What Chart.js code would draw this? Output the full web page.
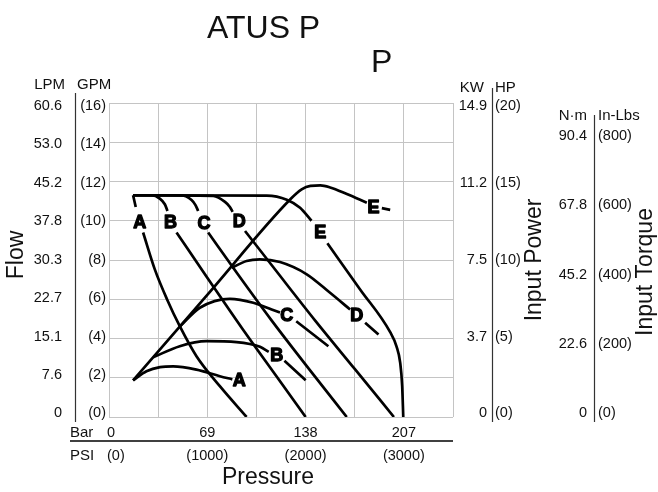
<!DOCTYPE html>
<html><head><meta charset="utf-8">
<script src="https://cdn.jsdelivr.net/npm/chart.js@4/dist/chart.umd.min.js"></script>
<style>html,body{margin:0;padding:0;background:#fff}#wrap{width:658px;height:492px}</style>
</head><body><div id="wrap"><canvas id="c" width="658" height="492"></canvas></div>
<script>
// ---- tick labels ----
const pressureTicksPSI = [0, 1000, 2000, 3000];
const pressureTicksBar = ['0', '69', '138', '207'];
const pressureTicksPSIText = ['(0)', '(1000)', '(2000)', '(3000)'];
const flowTicksGPM = [0, 2, 4, 6, 8, 10, 12, 14, 16];
const flowTicksLPM = ['0', '7.6', '15.1', '22.7', '30.3', '37.8', '45.2', '53.0', '60.6'];
const powerTicksHP = [0, 5, 10, 15, 20];
const powerTicksKW = ['0', '3.7', '7.5', '11.2', '14.9'];
const torqueTicksInLbs = [0, 200, 400, 600, 800];
const torqueTicksNm = ['0', '22.6', '45.2', '67.8', '90.4'];

// ---- flow curves: [PSI, GPM]; null = gap under the letter ----
const flowA = [[245,11.3],[272,10.7],[313,null],[347,9.4],[466,7.52],[591,5.99],[720,4.63],[890,3.1],[1128,1.57],[1400,0]];
const flowB = [[245,11.3],[432,11.3],[517,11.13],[568,10.84],[595,10.5],[626,null],[687,9.4],[1000,7.1],[1350,4.55],[1700,2.1],[2001,0]];
const flowC = [[245,11.3],[720,11.3],[840,11.06],[880,10.8],[907,10.5],[966,null],[1009,9.4],[1300,7.35],[1650,4.95],[2050,2.35],[2419,0]];
const flowD = [[245,11.3],[1061,11.26],[1180,10.96],[1230,10.7],[1258,10.45],[1326,null],[1384,9.48],[1700,7.45],[2100,4.9],[2500,2.45],[2899,0]];
const flowE = [[245,11.3],[1605,11.28],[1809,11.07],[1944,10.66],[2060,10.0],[2149,null],[2222,8.85],[2555,6.5],[2861,4.32],[2925,3.6],[2963,2.76],[2983,1.57],[2994,0]];

// ---- power curves: [PSI, HP] ----
const powerA = [[245,2.34],[381,2.91],[520,3.18],[653,3.23],[890,3.02],[1128,2.6],[1255,2.4]];
const powerB = [[449,3.8],[720,4.51],[992,4.83],[1298,4.77],[1536,4.47],[1625,4.15],[1706,null],[1785,3.58],[2001,2.34]];
const powerC = [[720,5.76],[924,6.96],[1230,7.53],[1468,7.28],[1655,6.85],[1740,6.65],[1808,null],[1905,6.1],[2232,4.51]];
const powerD = [[1247,9.5],[1400,9.94],[1536,10.04],[1740,9.87],[2012,9.09],[2249,7.91],[2453,6.85],[2521,null],[2606,6.0],[2742,5.25]];
const powerE = [[245,2.34],[1000,7.78],[1850,13.9],[1960,14.5],[2050,14.72],[2150,14.75],[2250,14.62],[2420,14.2],[2623,13.65],[2691,null],[2776,13.3],[2861,13.19]];

// ---- curve letters ----
const flowLabels = [['A',313,9.9],['B',626,9.9],['C',966,9.85],['D',1326,9.93],['E',2149,9.35]];
const powerLabels = [['A',1326,2.32],['B',1706,3.91],['C',1808,6.43],['D',2521,6.43],['E',2691,13.34]];

const FONT = '"Liberation Sans", Arial, sans-serif';
const toXY = arr => arr.map(p => ({x: p[0], y: p[1]}));
const mk = (arr, axis) => ({
  data: toXY(arr), yAxisID: axis, borderColor: '#000', borderWidth: 2.7,
  pointRadius: 0, fill: false, spanGaps: false, cubicInterpolationMode: 'monotone',
  borderCapStyle: 'butt'
});

const textPlugin = {
  id: 'texts',
  afterDatasetsDraw(chart) {
    const ctx = chart.ctx;
    const x = chart.scales.x, y = chart.scales.y, yHP = chart.scales.yHP;
    ctx.save();
    ctx.font = 'bold 18px ' + FONT;
    ctx.textAlign = 'center'; ctx.textBaseline = 'middle';
    ctx.fillStyle = '#000'; ctx.strokeStyle = '#000'; ctx.lineWidth = 1.3; ctx.lineJoin = 'round';
    flowLabels.forEach(l => {
      const px = x.getPixelForValue(l[1]), py = y.getPixelForValue(l[2]);
      ctx.fillText(l[0], px, py); ctx.strokeText(l[0], px, py);
    });
    powerLabels.forEach(l => {
      const px = x.getPixelForValue(l[1]), py = yHP.getPixelForValue(l[2]);
      ctx.fillText(l[0], px, py); ctx.strokeText(l[0], px, py);
    });
    ctx.restore();
  },
  afterDraw(chart) {
    const ctx = chart.ctx;
    const x = chart.scales.x, y = chart.scales.y, yHP = chart.scales.yHP, yT = chart.scales.yT;
    const a = chart.chartArea;
    const ly = py => 106 + (py - a.top) * 0.979;
    ctx.save();
    ctx.fillStyle = '#111';
    // title
    ctx.font = '32px ' + FONT;
    ctx.textAlign = 'left'; ctx.textBaseline = 'alphabetic';
    ctx.fillText('ATUS P', 207, 38);
    ctx.fillText('P', 371, 72);

    // axis lines
    ctx.strokeStyle = '#333'; ctx.lineWidth = 1.2;
    ctx.beginPath();
    ctx.moveTo(75.5, 93); ctx.lineTo(75.5, 422);
    ctx.moveTo(492.5, 88); ctx.lineTo(492.5, 422);
    ctx.moveTo(594.5, 115); ctx.lineTo(594.5, 422);
    ctx.stroke();
    ctx.strokeStyle = '#000'; ctx.lineWidth = 1.5;
    ctx.beginPath(); ctx.moveTo(70, 441); ctx.lineTo(a.right, 441); ctx.stroke();

    // unit headers
    ctx.font = '15px ' + FONT;
    ctx.textBaseline = 'alphabetic';
    ctx.textAlign = 'right'; ctx.fillText('LPM', 65, 89);
    ctx.textAlign = 'left'; ctx.fillText('GPM', 77, 89);
    ctx.textAlign = 'right'; ctx.fillText('KW', 484, 92);
    ctx.textAlign = 'left'; ctx.fillText('HP', 495, 92);
    ctx.textAlign = 'right'; ctx.fillText('N\u00b7m', 587, 120);
    ctx.textAlign = 'left'; ctx.fillText('In-Lbs', 598, 120);
    ctx.textAlign = 'left'; ctx.fillText('Bar', 70, 437);
    ctx.fillText('PSI', 70, 460);

    // tick labels
    ctx.font = '14.5px ' + FONT;
    ctx.textBaseline = 'middle';
    flowTicksGPM.forEach((v, i) => {
      const py = ly(y.getPixelForValue(v));
      ctx.textAlign = 'right';
      ctx.fillText(flowTicksLPM[i], 62, py);
      ctx.fillText('(' + v + ')', 106, py);
    });
    powerTicksHP.forEach((v, i) => {
      const py = ly(yHP.getPixelForValue(v));
      ctx.textAlign = 'right'; ctx.fillText(powerTicksKW[i], 487, py);
      ctx.textAlign = 'left'; ctx.fillText('(' + v + ')', 495, py);
    });
    torqueTicksInLbs.forEach((v, i) => {
      const py = ly(yT.getPixelForValue(v));
      ctx.textAlign = 'right'; ctx.fillText(torqueTicksNm[i], 587, py);
      ctx.textAlign = 'left'; ctx.fillText('(' + v + ')', 598, py);
    });
    ctx.textBaseline = 'alphabetic';
    pressureTicksPSI.forEach((v, i) => {
      const px = x.getPixelForValue(v);
      if (i === 0) { ctx.textAlign = 'left'; ctx.fillText(pressureTicksBar[i], px - 2, 437); ctx.fillText(pressureTicksPSIText[i], px - 2, 460); }
      else { ctx.textAlign = 'center'; ctx.fillText(pressureTicksBar[i], px, 437); ctx.fillText(pressureTicksPSIText[i], px, 460); }
    });

    // axis titles
    ctx.font = '23px ' + FONT;
    ctx.textAlign = 'center'; ctx.textBaseline = 'middle';
    ctx.fillText('Pressure', 268, 478);
    const rot = (t, cx, cy) => { ctx.save(); ctx.translate(cx, cy); ctx.rotate(-Math.PI / 2); ctx.fillText(t, 0, 0); ctx.restore(); };
    rot('Flow', 17, 255);
    rot('Input Power', 535, 260);
    rot('Input Torque', 646, 272);
    ctx.restore();
  }
};

const gridOpts = { color: '#c4c4c4', lineWidth: 1, drawTicks: false };
new Chart(document.getElementById('c'), {
  type: 'line',
  data: { datasets: [
    mk(flowA, 'y'), mk(flowB, 'y'), mk(flowC, 'y'), mk(flowD, 'y'), mk(flowE, 'y'),
    mk(powerA, 'yHP'), mk(powerB, 'yHP'), mk(powerC, 'yHP'), mk(powerD, 'yHP'), mk(powerE, 'yHP')
  ]},
  options: {
    responsive: false, animation: false, devicePixelRatio: 1,
    layout: { padding: { left: 109, right: 205, top: 103, bottom: 75 } },
    plugins: { legend: { display: false }, tooltip: { enabled: false }, title: { display: false } },
    scales: {
      x: { type: 'linear', min: 0, max: 3500, ticks: { display: false, stepSize: 500 }, grid: gridOpts, border: { display: false } },
      y: { type: 'linear', min: 0, max: 16, ticks: { display: false, stepSize: 2 }, grid: gridOpts, border: { display: false } },
      yHP: { type: 'linear', position: 'right', min: 0, max: 20, display: false },
      yT: { type: 'linear', position: 'right', min: 0, max: 887, display: false }
    }
  },
  plugins: [textPlugin]
});
</script>
</body></html>
